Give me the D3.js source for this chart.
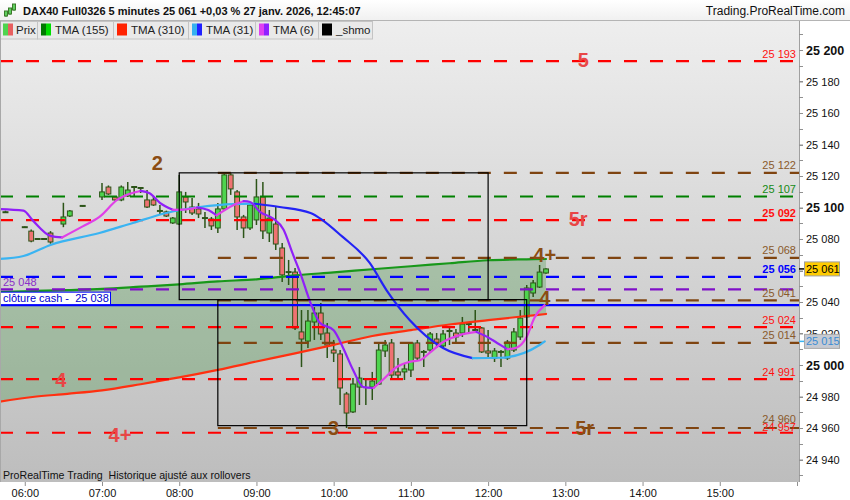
<!DOCTYPE html>
<html><head><meta charset="utf-8">
<script src="https://cdn.jsdelivr.net/npm/d3@7"></script>
<style>body{margin:0;background:#fff}svg{display:block;font-family:"Liberation Sans",Arial,sans-serif}text{white-space:pre}</style>
</head><body><svg id="c" width="850" height="500"></svg>
<script>
// ---------- DATA ----------
const candleTimes = ["05:45","06:00","06:05","06:10","06:15","06:20","06:30","06:35","06:45","07:00","07:05","07:10","07:15","07:20","07:25","07:30","07:35","07:40","07:45","07:50","07:55","08:00","08:05","08:10","08:15","08:20","08:25","08:30","08:35","08:40","08:45","08:50","08:55","09:00","09:05","09:10","09:15","09:20","09:25","09:30","09:35","09:40","09:45","09:50","09:55","10:00","10:05","10:10","10:15","10:20","10:25","10:30","10:35","10:40","10:45","10:50","10:55","11:00","11:05","11:10","11:15","11:20","11:25","11:30","11:35","11:40","11:45","11:50","11:55","12:00","12:05","12:10","12:15","12:20","12:25","12:30","12:35","12:40","12:45"];
const opens  = [25097,25087.5,25085,25080,25080,25083.8,25089.5,25094.6,25101,25106.7,25113,25106.7,25104.8,25107.3,25113,25112.4,25104.8,25104.8,25097.8,25097.2,25090.2,25089.5,25106.7,25100.3,25099.1,25093.3,25092.7,25087,25099.1,25120.7,25109.9,25094,25087,25092.1,25106.7,25083.8,25089.5,25074.3,25059,25059,25021,25015.2,25027.3,25033,25020.3,25009.5,25007,24981.6,24970.2,24986,24991.1,24986,24987.9,25008.9,25014,24995.6,24995.6,24996.8,25014,25008.3,25009.5,25016.5,25012.1,25021.6,25020.3,25020.3,25026,25022.2,25023.5,25008.9,25004.4,25008.3,25004.4,25009.5,25017.8,25030.5,25045.7,25049.5,25058.4];
const highs  = [25098,25088,25086,25080.5,25080.5,25085,25103,25098.4,25101.5,25115.6,25114,25107,25114,25116.2,25113.5,25113,25111.1,25106.7,25101.6,25098,25094,25120.7,25109.9,25106,25102.9,25097.2,25094,25102.9,25121.5,25121.9,25111.1,25095.3,25102.9,25118.1,25116.2,25098.4,25100.3,25077.5,25066.7,25061.6,25034.9,25034.9,25036.8,25039.4,25026.7,25015.9,25009.5,24982.9,24991.7,24998.7,24991.7,24995.6,25014,25015.9,25016.5,25004.4,25001.3,25014.6,25015.9,25009.5,25021,25020.3,25022.2,25024.8,25022.9,25030.5,25027.3,25034.9,25024.1,25022.2,25010.8,25009.5,25015.9,25023.5,25034.9,25050.8,25054,25063.5,25061.5];
const lows   = [25096.5,25087,25078,25079.5,25079.5,25077,25087.5,25094,25100.5,25104.8,25108,25104.5,25104,25106.7,25106.7,25109.2,25099.7,25101,25095.3,25094,25089.5,25088.9,25096.5,25095.3,25093.3,25087,25085.7,25083.8,25098.5,25108,25085.7,25080.6,25085.7,25088.9,25080,25078.1,25073,25052.7,25050.8,25022.2,24998.7,25010.8,25015.9,25015.9,25004.4,25001.9,24974.6,24960,24969.5,24974.6,24974.6,24977.8,24987.3,25005.1,24991.7,24990.5,24990.5,24992.4,25003.2,24998.7,25007.6,25010.8,25010.8,25012.7,25014,25017.8,25020.3,25020.3,25007.6,25005.1,25001.9,24998.7,25003.2,25008.3,25015.9,25024.1,25043.2,25048.9,25058];
const closes = [25097,25087.5,25078.7,25080,25080,25078.1,25094,25097.8,25101,25109.9,25108.6,25104.8,25113,25111.1,25113,25112.4,25100.3,25101.6,25097.8,25094.6,25093.3,25109.9,25103.5,25096.5,25095.9,25093.3,25088.3,25099.1,25120.7,25111.8,25094,25087,25101.6,25106.7,25085.1,25093.3,25076.8,25057.2,25059,25023.5,25016.5,25027.9,25033,25019.7,25012.7,25007.6,24985.4,24969.5,24987.9,24991.7,24991.1,24989.8,25009.5,25012.7,24993.6,24993.6,24997.5,25014,25004.4,25008.3,25019.7,25014,25019.7,25021.6,25017.8,25026,25026,25022.2,25008.3,25007.6,25008.9,25008.3,25014.6,25021,25029.8,25048.9,25052.1,25059,25061];

const tma6Times = ["05:40","05:59","06:06","06:20","06:29","06:45","06:58","07:12","07:19","07:30","07:37","07:45","07:55","08:03","08:14","08:22","08:29","08:42","08:50","08:55","09:03","09:13","09:21","09:28","09:34","09:42","09:49","10:00","10:07","10:15","10:23","10:31","10:38","10:49","10:59","11:07","11:15","11:25","11:38","11:51","11:59","12:07","12:15","12:22","12:30","12:36","12:44"];
const tma6Values = [25099,25098,25092,25082,25081,25088,25094,25105,25108,25110.5,25109,25103,25098.5,25098.6,25100,25098.5,25095,25101.5,25104,25103.5,25097,25093,25086,25071,25058.5,25039.5,25027,25022,25011.5,24997,24986,24985.4,24990.5,24998.7,25002,25003,25008,25014.6,25019,25021,25018,25014,25010,25011,25018,25030,25038];

const tma31Times = ["05:40","05:59","06:20","06:58","07:24","07:50","08:16","08:42","08:59","09:18","09:42","10:07","10:28","10:41","10:59","11:25","11:48","12:09","12:40","12:44"];
const tma31Values = [25067.3,25069.2,25076.2,25083.8,25090.2,25096.5,25100.3,25102.2,25102.4,25100.3,25096.5,25081.3,25064.8,25047.6,25028.6,25010.8,25004.4,25004.6,25012.7,25015];

const slowTimes = ["05:40","06:06","06:33","07:00","07:30","08:00","08:30","09:00","09:30","10:00","10:30","11:00","11:30","12:00","12:30","12:45"];
const tma155Values = [25046.4,25047,25047.6,25048.3,25049.7,25051.2,25053.1,25054.4,25056.9,25058.8,25060.8,25062.7,25064.6,25066.5,25067.1,25067.3];
const tma310Values = [24976.7,24979.7,24981.7,24983.9,24987.8,24992.1,24996.9,25002.2,25007.4,25012.8,25018.4,25022.1,25025.7,25028.5,25031.1,25032.4];

const levelValues = [25193,25122,25107,25092,25068,25056,25048,25041,25024,25014,24991,24960,24957];
const levelKinds  = ["red","brown","green","red","brown","blue","purple","brown","red","brown","red","brown","red"];
const levelBold   = [false,false,false,true,false,true,false,false,false,false,false,false,false];
const levelLabels = ["25 193","25 122","25 107","25 092","25 068","25 056","","25 041","25 024","25 014","24 991","24 960","24 957"];
const brownStart = "08:30";
const cashClose = 25038;

const boxes = [{t0:"08:00",t1:"12:00",v0:25122,v1:25041.5},{t0:"08:30",t1:"12:30",v0:25041.5,v1:24961.5}];

const annoText  = ["2","5","5r","4+","4","3","4","4+","5r"];
const annoTimes = ["07:43","13:14","13:10","12:44","12:44","10:00","06:28","07:14","13:15"];
const annoValues= [25128,25193.5,25093,25070,25042.5,24960,24990.5,24955.5,24960];
const annoKinds = ["brown","red","red","brown","brown","brown","red","red","brown"];

const yTicks = [24940,24960,24980,25000,25020,25040,25060,25080,25100,25120,25140,25160,25180,25200];
const yBold = [25000,25100,25200];
const xTicks = ["06:00","07:00","08:00","09:00","10:00","11:00","12:00","13:00","14:00","15:00","16:00"];

const legendLabels = ["Prix","TMA (155)","TMA (310)","TMA (31)","TMA (6)","_shmo"];
const legendC1 = ["#4ed44e","#007800","#ff2200","#35b0f0","#e040f0","#000000"];
const legendC2 = ["#e86060","#00dd00","#ff2200","#2020ff","#9020ff","#000000"];

const title = "DAX40 Full0326 5 minutes 25 061 +0,03 % 27 janv. 2026, 12:45:07";

// ---------- SETUP ----------
const svg = d3.select("#c");
const P = {l:0, r:799, t:21, b:482};
const tm = s => { const [h,m] = s.split(":").map(Number); return h*60+m; };
const x = d3.scaleLinear().domain([tm("07:00"),tm("16:00")]).range([102,797]);
const y = d3.scaleLinear().domain([24940,25200]).range([459.5,50]);
const colors = {red:"#ff0000", brown:"#7f4410", green:"#008000", blue:"#0000ff", purple:"#8010c8"};
const textColors = {red:"#ff1010", brown:"#8a5a2c", green:"#158a15", blue:"#0000ff", purple:"#8a30c8"};
const annoColors = {red:"#e84646", brown:"#8b4c12"};
const spaceFmt = v => d3.format(",")(v).replace(/,/g," ");

const defs = svg.append("defs");
const bg = defs.append("linearGradient").attr("id","bg").attr("x1",0).attr("y1",0).attr("x2",0).attr("y2",1);
bg.append("stop").attr("offset","0%").attr("stop-color","#eeeeee");
bg.append("stop").attr("offset","100%").attr("stop-color","#bdbdbd");
const hg = defs.append("linearGradient").attr("id","hg").attr("x1",0).attr("y1",0).attr("x2",0).attr("y2",1);
hg.append("stop").attr("offset","0%").attr("stop-color","#ffffff");
hg.append("stop").attr("offset","100%").attr("stop-color","#f0f0f0");
defs.append("clipPath").attr("id","clip").append("rect")
  .attr("x",P.l).attr("y",P.t).attr("width",P.r-P.l).attr("height",P.b-P.t);

svg.append("rect").attr("width",850).attr("height",500).attr("fill","#fff");
svg.append("rect").attr("x",P.l).attr("y",P.t).attr("width",P.r-P.l).attr("height",P.b-P.t).attr("fill","url(#bg)");

const gp = svg.append("g").attr("clip-path","url(#clip)");

// shading between TMA155 and TMA310
const slow = slowTimes.map((t,i)=>({t:tm(t), a:tma155Values[i], b:tma310Values[i]}));
gp.append("path").datum(slow)
  .attr("d", d3.area().x(d=>x(d.t)).y0(d=>y(d.b)).y1(d=>y(d.a)).curve(d3.curveMonotoneX))
  .attr("fill","#2e8a2e").attr("fill-opacity",0.27);

// candles
const candles = candleTimes.map((t,i)=>({t:tm(t), o:opens[i], h:highs[i], l:lows[i], c:closes[i]}));
const cg = gp.append("g");
const outline = "#2c5418";
cg.selectAll("line.wick").data(candles).join("line").attr("class","wick")
  .attr("x1",d=>x(d.t)).attr("x2",d=>x(d.t)).attr("y1",d=>y(d.h)).attr("y2",d=>y(d.l))
  .attr("stroke",outline).attr("stroke-width",1.5);
cg.selectAll("rect.body").data(candles.filter(d=>d.o!==d.c)).join("rect").attr("class","body")
  .attr("x",d=>x(d.t)-2.4).attr("width",4.8)
  .attr("y",d=>y(Math.max(d.o,d.c))).attr("height",d=>Math.max(1.5,Math.abs(y(d.o)-y(d.c))))
  .attr("fill",d=>d.c>d.o?"#4ed44e":"#ef7272").attr("stroke",outline).attr("stroke-width",1);
cg.selectAll("line.doji").data(candles.filter(d=>d.o===d.c)).join("line").attr("class","doji")
  .attr("x1",d=>x(d.t)-3).attr("x2",d=>x(d.t)+3).attr("y1",d=>y(d.o)).attr("y2",d=>y(d.o))
  .attr("stroke",outline).attr("stroke-width",2);

// direction-coloured line helper
function dirLine(times, vals, up, down, w){
  const pts = times.map((t,i)=>({t:tm(t), v:vals[i]}));
  const runs = []; let cur=[pts[0]]; let dir=null;
  for(let i=1;i<pts.length;i++){
    const d = pts[i].v>=pts[i-1].v ? 1 : -1;
    if(dir===null) dir=d;
    if(d!==dir){ runs.push({dir,pts:cur}); cur=[pts[i-1]]; dir=d; }
    cur.push(pts[i]);
  }
  runs.push({dir,pts:cur});
  const line = d3.line().x(d=>x(d.t)).y(d=>y(d.v)).curve(d3.curveMonotoneX);
  runs.forEach(r=>{
    gp.append("path").datum(r.pts).attr("d",line).attr("fill","none")
      .attr("stroke", r.dir>0?up:down).attr("stroke-width",w).attr("stroke-linejoin","round").attr("stroke-linecap","round");
  });
}
dirLine(slowTimes, tma310Values, "#ff3010", "#ff3010", 2.2);
dirLine(slowTimes, tma155Values, "#18981a", "#007800", 2.2);

// levels
levelValues.forEach((v,i)=>{
  const k = levelKinds[i];
  const x0 = k==="brown" ? x(tm(brownStart)) : 0;
  gp.append("line").attr("x1",x0).attr("x2",P.r).attr("y1",y(v)).attr("y2",y(v))
    .attr("stroke",colors[k]).attr("stroke-width",2.2).attr("stroke-dasharray","13,13");
});
// cash close solid line
gp.append("line").attr("x1",0).attr("x2",P.r).attr("y1",y(cashClose)).attr("y2",y(cashClose))
  .attr("stroke","#0000ff").attr("stroke-width",2.2);

dirLine(tma31Times, tma31Values, "#3ab4f2", "#2323f5", 2.2);
dirLine(tma6Times, tma6Values, "#e040e8", "#9020f8", 2.2);

// boxes
boxes.forEach(b=>{
  gp.append("rect").attr("x",x(tm(b.t0))).attr("y",y(b.v0))
    .attr("width",x(tm(b.t1))-x(tm(b.t0))).attr("height",y(b.v1)-y(b.v0))
    .attr("fill","none").attr("stroke","#000").attr("stroke-width",1.2);
});

// level labels (right, inside plot)
levelValues.forEach((v,i)=>{
  if(!levelLabels[i]) return;
  const k = levelKinds[i];
  let dy = -3.5;
  if(v===24957) dy = -2;
  if(v===24960) dy = -5;
  svg.append("text").attr("x",796).attr("y",y(v)+dy).attr("text-anchor","end")
    .attr("font-size",11).attr("font-weight",levelBold[i]?"bold":"normal")
    .attr("fill",textColors[k]).text(levelLabels[i]);
});
// purple level label at left
svg.append("text").attr("x",3).attr("y",y(25048)-3.5).attr("font-size",11).attr("fill",textColors.purple).text("25 048");
// cash close label
svg.append("rect").attr("x",0.5).attr("y",y(cashClose)-13).attr("width",110).attr("height",12.5)
  .attr("fill","#fff").attr("stroke","#0000ff").attr("stroke-width",1);
svg.append("text").attr("x",3).attr("y",y(cashClose)-3).attr("font-size",11).attr("fill","#0000d0")
  .text("clôture cash -  " + spaceFmt(cashClose));

// annotations
annoText.forEach((s,i)=>{
  svg.append("text").attr("x",x(tm(annoTimes[i]))).attr("y",y(annoValues[i]))
    .attr("text-anchor","middle").attr("dominant-baseline","central")
    .attr("font-size",20).attr("font-weight","bold").attr("fill",annoColors[annoKinds[i]]).text(s);
});

// bottom note
svg.append("text").attr("x",3).attr("y",479).attr("font-size",10.6).attr("fill","#111")
  .text("ProRealTime Trading  Historique ajusté aux rollovers");

// ---------- RIGHT AXIS ----------
svg.append("rect").attr("x",P.r).attr("y",P.t).attr("width",850-P.r).attr("height",P.b-P.t).attr("fill","#fff");
svg.append("line").attr("x1",P.r+0.5).attr("x2",P.r+0.5).attr("y1",P.t).attr("y2",P.b).attr("stroke","#a0a0a0");
const minor = d3.range(24930, 25211, 10);
svg.append("g").selectAll("line").data(minor).join("line")
  .attr("x1",P.r).attr("x2",P.r+4).attr("y1",d=>Math.round(y(d))+0.5).attr("y2",d=>Math.round(y(d))+0.5)
  .attr("stroke","#909090");
const ya = svg.append("g").attr("transform",`translate(${P.r},0)`)
  .call(d3.axisRight(y).tickValues(yTicks).tickSize(4).tickPadding(3).tickFormat(spaceFmt));
ya.select(".domain").remove();
ya.selectAll(".tick line").attr("stroke","#909090");
ya.selectAll(".tick text").attr("font-family","Liberation Sans, Arial, sans-serif")
  .attr("font-size",d=>yBold.includes(d)?12.5:11).attr("font-weight",d=>yBold.includes(d)?"bold":"normal").attr("fill","#111");

// current price marker
const lastC = closes[closes.length-1];
svg.append("line").attr("x1",P.r).attr("x2",P.r+5).attr("y1",y(lastC)).attr("y2",y(lastC)).attr("stroke","#000").attr("stroke-width",1.5);
svg.append("rect").attr("x",804.5).attr("y",y(lastC)-7).attr("width",35).attr("height",14)
  .attr("fill","#ffcc00").attr("stroke","#a0a0a0");
svg.append("text").attr("x",806).attr("y",y(lastC)+4).attr("font-size",11).attr("fill","#000").text(spaceFmt(lastC));
// TMA31 marker
const last31 = tma31Values[tma31Values.length-1];
svg.append("line").attr("x1",P.r).attr("x2",P.r+5).attr("y1",y(last31)).attr("y2",y(last31)).attr("stroke","#3ab4f2").attr("stroke-width",1.5);
svg.append("rect").attr("x",804.5).attr("y",y(last31)-7).attr("width",35).attr("height",14)
  .attr("fill","#c6cad2").attr("stroke","#a8a8a8");
svg.append("text").attr("x",806).attr("y",y(last31)+4).attr("font-size",11).attr("fill","#3a8cd4").text(spaceFmt(last31));

// ---------- BOTTOM AXIS ----------
svg.append("rect").attr("x",0).attr("y",P.b).attr("width",850).attr("height",500-P.b).attr("fill","#fff");
const xa = svg.append("g").attr("transform",`translate(0,${P.b})`)
  .call(d3.axisBottom(x).tickValues(xTicks.map(tm)).tickSize(4).tickPadding(3)
    .tickFormat(m => m>=960 ? "" : d3.format("02")(Math.floor(m/60))+":00"));
xa.select(".domain").remove();
xa.selectAll(".tick line").attr("stroke","#909090");
xa.selectAll(".tick text").attr("font-family","Liberation Sans, Arial, sans-serif").attr("font-size",11).attr("fill","#111");

// ---------- LEGEND ----------
const legendWidths = [37,76,75,67,63,54];
const lg = svg.append("g");
let lx = 0;
legendLabels.forEach((lab,i)=>{
  const g = lg.append("g");
  const w = legendWidths[i];
  const sx = i===0 ? lx+3 : lx+4;
  const tx = i===0 ? lx+16 : lx+18;
  g.append("rect").attr("x",lx+0.5).attr("y",21.5).attr("width",w).attr("height",17.5).attr("fill","#e9e9e9").attr("stroke","#c4c4c4");
  g.append("rect").attr("x",sx).attr("y",23.5).attr("width",5).attr("height",12).attr("fill",legendC1[i]);
  g.append("rect").attr("x",sx+5).attr("y",23.5).attr("width",5).attr("height",12).attr("fill",legendC2[i]);
  g.append("text").attr("x",tx).attr("y",34).attr("font-size",11.5).attr("fill","#222").text(lab);
  lx += w;
});

// ---------- HEADER ----------
svg.append("rect").attr("x",0).attr("y",0).attr("width",850).attr("height",20.5).attr("fill","url(#hg)");
svg.append("line").attr("x1",0).attr("x2",850).attr("y1",20.5).attr("y2",20.5).attr("stroke","#b4b4b4");
// small icon
const ic = svg.append("g").attr("stroke","#3b7a2a").attr("stroke-width",1);
[[6,9,14,11,13],[10,6,12,8,11],[14,3,8,4,7]].forEach(a=>{
  ic.append("line").attr("x1",a[0]).attr("x2",a[0]).attr("y1",a[1]+2).attr("y2",a[2]+3);
  ic.append("rect").attr("x",a[0]-1.5).attr("y",a[3]).attr("width",3).attr("height",a[4]-a[3]+3).attr("fill","#5fd05f");
});
svg.append("text").attr("x",23).attr("y",15).attr("font-size",11).attr("font-weight","bold").attr("fill","#111").text(title);
svg.append("text").attr("x",845).attr("y",15).attr("text-anchor","end").attr("font-size",12).attr("fill","#111").text("Trading.ProRealTime.com");
svg.append("line").attr("x1",0.5).attr("x2",0.5).attr("y1",21).attr("y2",P.b).attr("stroke","#a8a8a8");
</script></body></html>
